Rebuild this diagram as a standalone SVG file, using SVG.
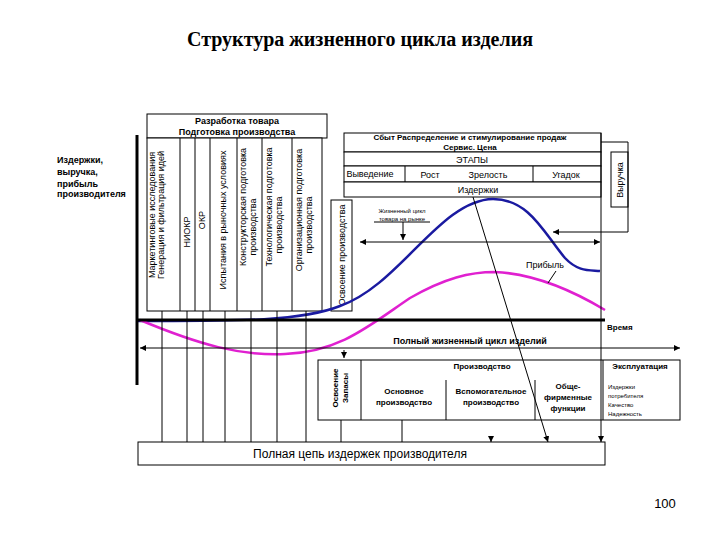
<svg xmlns="http://www.w3.org/2000/svg" width="720" height="540" viewBox="0 0 720 540">
<defs>
<marker id="ah" viewBox="0 0 10 10" refX="10" refY="5" markerWidth="6" markerHeight="6" orient="auto"><path d="M0,0 L10,5 L0,10 z" fill="#000"/></marker>
<marker id="as" viewBox="0 0 10 10" refX="0" refY="5" markerWidth="6" markerHeight="6" orient="auto"><path d="M10,0 L0,5 L10,10 z" fill="#000"/></marker>
</defs>
<style>
text{font-family:"Liberation Sans",Arial,sans-serif;fill:#000}
.b{font-weight:bold}
.s9{font-size:9px}
.s8{font-size:8px}
.s7{font-size:6px}
.box{fill:#fff;stroke:#000;stroke-width:1}
.ln{stroke:#000;stroke-width:1;fill:none}
</style>
<rect width="720" height="540" fill="#fff"/>
<text x="360" y="46" text-anchor="middle" style="font-family:'Liberation Serif',serif;font-size:20px;font-weight:bold">Структура жизненного цикла изделия</text>
<text x="57" y="163" class="b s9">Издержки,</text>
<text x="57" y="175" class="b s9">выручка,</text>
<text x="57" y="187" class="b s9">прибыль</text>
<text x="57" y="197" class="b s9">производителя</text>

<g id="dev">
<rect x="147" y="114" width="180" height="24" class="box"/>
<text x="237" y="124" text-anchor="middle" class="b s9">Разработка товара</text>
<text x="237" y="135" text-anchor="middle" class="b s9">Подготовка производства</text>
<rect x="147" y="138" width="175" height="173" class="box"/>
<path class="ln" d="M180,138V311M195,138V311M210,138V311M237,138V311M262,138V311M292,138V311"/>
<g class="s9" text-anchor="middle">
<text transform="translate(155,215) rotate(-90)">Маркетинговые исследования</text>
<text transform="translate(164,215) rotate(-90)">Генерация и фильтрация идей</text>
<text transform="translate(190,232) rotate(-90)">НИОКР</text>
<text transform="translate(205,220) rotate(-90)">ОКР</text>
<text transform="translate(226,220) rotate(-90)">Испытания в рыночных условиях</text>
<text transform="translate(246,207) rotate(-90)">Конструкторская подготовка</text>
<text transform="translate(256,227) rotate(-90)">производства</text>
<text transform="translate(272,207) rotate(-90)">Технологическая подготовка</text>
<text transform="translate(282,225) rotate(-90)">производства</text>
<text transform="translate(302,210) rotate(-90)">Организационная подготовка</text>
<text transform="translate(312,225) rotate(-90)">производства</text>
</g>
</g>
<g id="osv">
<rect x="331" y="200" width="21" height="111" class="box"/>
<text transform="translate(345,255) rotate(-90)" text-anchor="middle" class="s9">Освоение производства</text>
</g>

<g id="sales">
<rect x="344" y="133" width="257" height="19" class="box"/>
<text x="470" y="140" text-anchor="middle" class="b s8">Сбыт   Распределение и стимулирование продаж</text>
<text x="470" y="150" text-anchor="middle" class="b s8">Сервис. Цена</text>
<rect x="344" y="152" width="257" height="14" class="box"/>
<text x="472" y="163" text-anchor="middle" class="s9">ЭТАПЫ</text>
<rect x="344" y="166" width="257" height="16" class="box"/>
<path class="ln" d="M405,166V182M533,166V182"/>
<text x="370" y="177" text-anchor="middle" class="s9">Выведение</text>
<text x="430" y="178" text-anchor="middle" class="s9">Рост</text>
<text x="488" y="178" text-anchor="middle" class="s9">Зрелость</text>
<text x="566" y="178" text-anchor="middle" class="s9">Угадок</text>
<rect x="344" y="182" width="257" height="15" class="box"/>
<text x="478" y="193" text-anchor="middle" class="s9">Издержки</text>
</g>
<g id="vyr">
<rect x="611" y="152" width="17" height="55" class="box"/>
<text transform="translate(623,180) rotate(-90)" text-anchor="middle" class="s9">Выручка</text>
</g>
<g id="labels">
<text x="402" y="213" text-anchor="middle" class="s7">Жизненный цикл</text>
<text x="402" y="221" text-anchor="middle" class="s7">товара на рынке</text>
<text x="545" y="268" text-anchor="middle" class="s9">Прибыль</text>
<text x="607" y="330" class="b s8">Время</text>
<text x="470" y="344" text-anchor="middle" class="b s9">Полный жизненный цикл изделий</text>
</g>

<g id="curves" fill="none">
<path d="M137,321 C230,321 300,322 340,306 C400,285 440,200 493,199 C530,199 545,235 565,258 C578,272 590,270 600,271" stroke="#1a1aa0" stroke-width="2.5"/>
<path d="M140,320 C200,345 240,356 285,354 C340,352 370,325 410,298 C445,278 470,272 495,272 C540,274 580,295 605,310" stroke="#e020d0" stroke-width="2.5"/>
</g>

<g id="table">
<rect x="318" y="360" width="362" height="60" class="box"/>
<path class="ln" d="M361,360V420M603,360V420M446,380V420M535,380V420"/>
<g class="b s7" text-anchor="middle" style="font-size:8px">
<text transform="translate(338,388) rotate(-90)">Освоение</text>
<text transform="translate(348,388) rotate(-90)">Запасы</text>
<text x="482" y="369">Производство</text>
<text x="404" y="394">Основное</text>
<text x="404" y="405">производство</text>
<text x="491" y="394">Вспомогательное</text>
<text x="491" y="405">производство</text>
<text x="568" y="389">Обще-</text>
<text x="568" y="400">фирменные</text>
<text x="568" y="411">функции</text>
<text x="640" y="369">Эксплуатация</text>
</g>
<text x="608" y="389" class="s7">Издержки</text>
<text x="608" y="398" class="s7">потребителя</text>
<text x="608" y="407" class="s7">Качество</text>
<text x="608" y="416" class="s7">Надежность</text>
</g>

<g id="total">
<rect x="138" y="442" width="467" height="23" class="box"/>
<text x="360" y="458" text-anchor="middle" style="font-size:12px">Полная цепь издержек производителя</text>
</g>
<text x="665" y="508" text-anchor="middle" style="font-size:13px;font-family:'Liberation Sans',sans-serif">100</text>

<g id="connectors">
<path d="M137,135V385" stroke="#000" stroke-width="3"/>
<path d="M137,320H605" stroke="#000" stroke-width="3"/>
<path class="ln" d="M601,133V442" marker-end="url(#ah)"/>
<path class="ln" d="M360,242H600" marker-start="url(#as)" marker-end="url(#ah)"/>
<path class="ln" d="M403,222V240" marker-end="url(#ah)"/>
<path class="ln" d="M374,222H430"/>
<path class="ln" d="M601,142H628V232H553" marker-end="url(#ah)"/>
<path class="ln" d="M140,348H680" marker-start="url(#as)" marker-end="url(#ah)"/>
<path class="ln" d="M344,350V358" marker-end="url(#ah)"/>
<path class="ln" d="M473,197L548,442" marker-end="url(#ah)"/>
<path class="ln" d="M556,271L548,283"/>
<path class="ln" d="M162,311V442M187,311V442M203,311V442M225,311V442M251,311V442M277,311V442M306,311V442M341,420V442M402,420V442M491,436V442" marker-end="url(#ah)"/>
</g>
</svg>
